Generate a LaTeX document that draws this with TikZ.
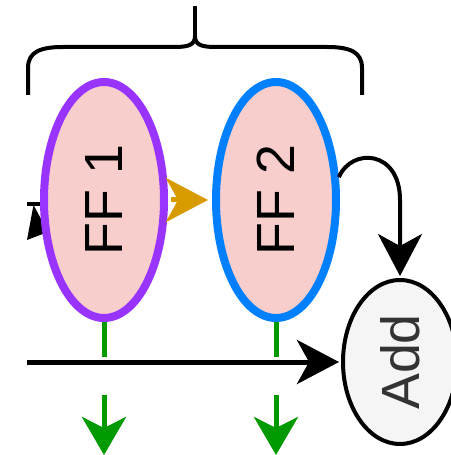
\documentclass[tikz,border=0pt]{standalone}
\usepackage{fontspec}
\setmainfont{Liberation Sans}
\usepackage{graphicx}
\usetikzlibrary{shapes.geometric}
\usetikzlibrary{arrows.meta}
\usetikzlibrary{backgrounds}
\definecolor{ffill}{HTML}{F8CECC}
\definecolor{ffone}{HTML}{9933FF}
\definecolor{fftwo}{HTML}{007FFF}
\definecolor{addfill}{HTML}{F5F5F5}
\definecolor{addtext}{HTML}{333333}
\definecolor{orng}{HTML}{D79B00}
\definecolor{grn}{HTML}{009900}
\tikzset{l/.style={font=\fontsize{54}{54}\selectfont}}
\tikzset{ff/.style={ellipse,fill=ffill,line width=8bp,minimum width=120bp,minimum height=236bp,inner sep=0pt,l}}
\tikzset{tip/.style={-{Stealth[length=42bp,width=44bp,inset=12bp]}}}
\tikzset{gtip/.style={grn,line width=5bp,-{Stealth[length=38bp,width=44bp,inset=11bp]}}}

\begin{document}
\begin{tikzpicture}[x=1bp,y=-1bp]
        \useasboundingbox (0,0) rectangle (451,455);
        \clip (0,0) rectangle (451,455);
        % flip-flops and adder
        \node[ff,draw=ffone] (A) at (104,200) {\rotatebox{90}{FF 1}};
        \node[ff,draw=fftwo] (B) at (276,200) {\rotatebox{90}{FF 2}};
        \node[ellipse,draw,fill=addfill,line width=4bp,minimum width=114bp,
          minimum height=164bp,inner sep=0pt,l,text=addtext] (C) at (400,362) {\rotatebox{90}{Add}};
        % stubs coming in from the left
        \coordinate (i1) at (27,204.5);
        \begin{scope}[on background layer]
          \draw[line width=4bp] (i1) -- (i1 -| A.center);
          \fill (27,240) -- (33.5,205) -- (48,232) -- cycle;
        \end{scope}
        % brace over both flip-flops
        \draw[line width=4bp] (28,95) -- (28,68) .. controls (28,52) and (40,47) .. (63,47)
          -- (175,47) .. controls (190,47) and (195,44) .. (195,36)
          .. controls (195,44) and (200,47) .. (215,47) -- (327,47)
          .. controls (350,47) and (362,52) .. (362,68) -- (362,95);
        \draw[line width=4bp] (195,37) -- (195,6);
        % data path
        \draw[orng,line width=5bp,tip,shorten <=3bp,shorten >=4bp] (A) -- (B);
        \draw[line width=4bp,tip,shorten >=2bp] (B.20) .. controls +(13,-30) and +(0,-50) .. (C.north |- B.east) -- (C.north);
        \coordinate (s) at (27,362);
        \draw[line width=5bp,tip,shorten >=2bp] (s) -- (s -| C.west);
        % outputs going down
        \coordinate (a1) at (104,357);
        \coordinate (a2) at (104,395);
        \coordinate (a3) at (104,455);
        \coordinate (b1) at (276,357);
        \coordinate (b2) at (276,395);
        \coordinate (b3) at (276,455);
        \draw[grn,line width=5bp] (A.south) -- (a1);
        \draw[grn,line width=5bp] (B.south) -- (b1);
        \draw[gtip] (a2) -- (a3);
        \draw[gtip] (b2) -- (b3);
      \end{tikzpicture}
\end{document}
